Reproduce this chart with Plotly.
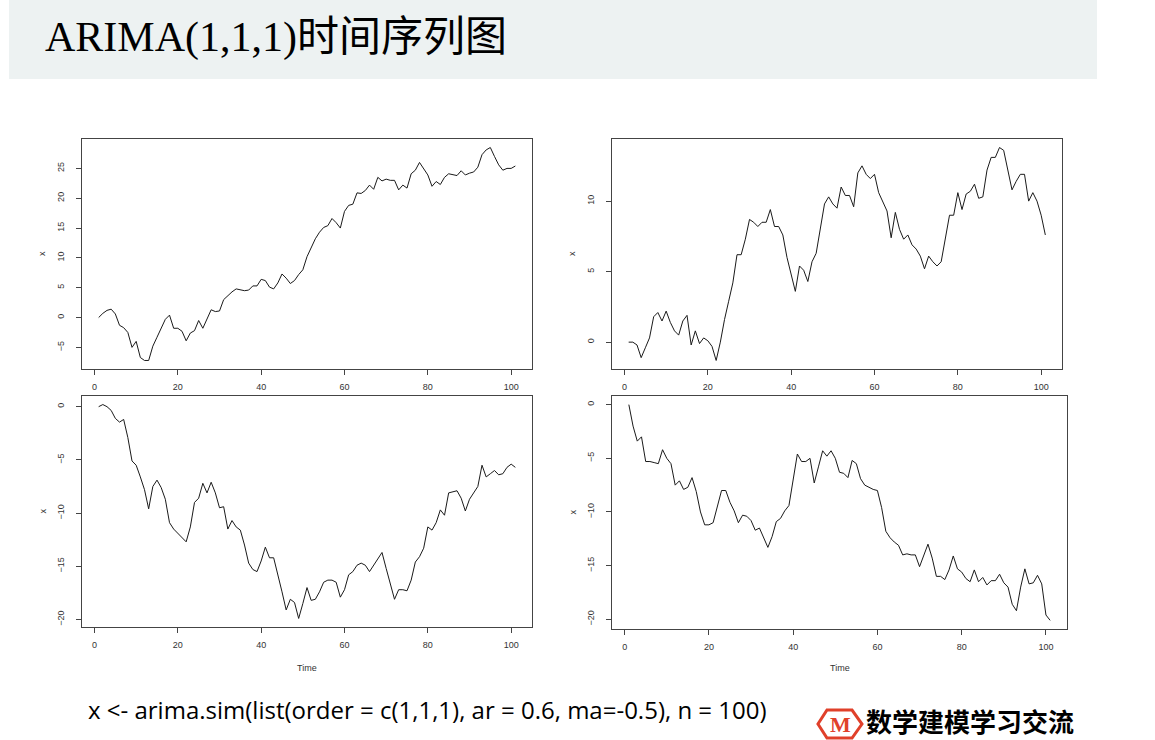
import plotly.graph_objects as go

W, H = 1155, 740

time = list(range(1, 102))

x_top_left = [0.0, 0.7, 1.2, 1.4, 0.6, -1.3, -1.7, -2.5, -5.0, -4.0,
              -6.7, -7.2, -7.2, -4.8, -3.3, -1.8, -0.3, 0.4, -1.8, -1.8,
              -2.3, -3.9, -2.6, -2.2, -0.5, -1.8, -0.3, 1.3, 1.0, 1.1,
              3.0, 3.7, 4.3, 4.8, 4.7, 4.5, 4.6, 5.3, 5.3, 6.4,
              6.2, 5.1, 4.8, 5.8, 7.3, 6.6, 5.7, 6.2, 7.2, 8.0,
              10.2, 11.8, 13.2, 14.3, 15.1, 15.4, 16.6, 15.9, 15.0, 17.8,
              18.8, 19.0, 20.9, 20.8, 21.3, 22.2, 21.5, 23.5, 22.9, 23.2,
              23.0, 23.0, 21.4, 22.2, 21.7, 24.1, 24.7, 26.0, 25.0, 23.9,
              22.0, 22.8, 22.3, 23.5, 24.1, 24.0, 23.8, 24.6, 23.9, 24.2,
              24.4, 25.2, 27.3, 28.1, 28.5, 27.0, 25.6, 24.7, 25.0, 25.0,
              25.4]

x_top_right = [0.0, 0.0, -0.2, -1.1, -0.4, 0.3, 1.8, 2.1, 1.5, 2.2,
               1.4, 0.8, 0.5, 1.5, 1.9, -0.2, 0.8, -0.1, 0.3, 0.1,
               -0.3, -1.3, 0.0, 1.6, 2.9, 4.2, 6.2, 6.2, 7.3, 8.7,
               8.5, 8.2, 8.5, 8.5, 9.4, 8.2, 8.2, 7.6, 6.0, 4.7,
               3.6, 5.4, 5.1, 4.3, 5.7, 6.3, 8.2, 9.8, 10.3, 9.8,
               9.5, 11.0, 10.4, 10.4, 9.6, 12.0, 12.5, 11.9, 11.6, 11.9,
               10.6, 10.0, 9.3, 7.4, 9.2, 8.0, 7.3, 7.6, 6.9, 6.6,
               6.1, 5.2, 6.1, 5.7, 5.4, 5.7, 7.3, 9.0, 9.0, 10.6,
               9.4, 10.5, 10.7, 11.2, 10.2, 10.3, 12.2, 13.1, 13.1, 13.8,
               13.6, 12.2, 10.8, 11.4, 11.9, 11.9, 10.0, 10.6, 10.0, 9.0,
               7.6]

x_bottom_left = [0.0, 0.2, 0.0, -0.35, -1.1, -1.45, -1.2, -2.9, -5.1, -5.5,
                 -6.6, -7.8, -9.6, -7.5, -6.9, -7.6, -8.7, -10.9, -11.5, -11.9,
                 -12.4, -12.7, -11.3, -9.0, -8.6, -7.2, -8.1, -7.1, -8.1, -9.5,
                 -9.4, -11.5, -10.7, -11.3, -11.6, -13.0, -14.7, -15.3, -15.5, -14.5,
                 -13.2, -14.2, -14.2, -15.7, -17.4, -19.1, -18.1, -18.4, -19.9, -18.5,
                 -17.0, -18.2, -18.1, -17.4, -16.5, -16.3, -16.3, -16.5, -17.9, -17.2,
                 -15.8, -15.5, -14.9, -14.7, -14.9, -15.5, -14.9, -14.2, -13.7, -15.2,
                 -16.6, -18.1, -17.2, -17.2, -17.3, -16.3, -14.6, -14.1, -13.3, -11.3,
                 -11.6, -10.9, -9.7, -10.2, -8.1, -8.0, -7.9, -8.6, -9.8, -8.7,
                 -8.1, -7.5, -5.5, -6.6, -6.3, -6.0, -6.4, -6.3, -5.7, -5.4,
                 -5.7]

x_bottom_right = [0.0, -2.0, -3.4, -3.0, -5.3, -5.3, -5.4, -5.5, -4.2, -5.0,
                  -5.5, -7.5, -7.1, -7.9, -7.7, -6.8, -8.1, -10.0, -11.2, -11.2,
                  -11.0, -9.6, -8.0, -8.0, -9.1, -9.9, -11.0, -10.3, -10.4, -10.8,
                  -11.7, -11.5, -12.4, -13.3, -12.3, -10.9, -10.6, -9.9, -9.4, -6.8,
                  -4.6, -5.3, -5.3, -5.0, -7.3, -5.8, -4.3, -4.8, -4.3, -5.0,
                  -6.3, -6.4, -6.8, -5.2, -5.5, -6.9, -7.5, -7.7, -7.9, -8.0,
                  -9.6, -11.8, -12.4, -12.8, -13.1, -14.0, -13.9, -14.0, -14.0, -15.1,
                  -14.0, -13.0, -14.3, -16.0, -16.0, -16.3, -15.4, -14.1, -15.3, -15.6,
                  -16.2, -16.5, -15.4, -16.5, -16.1, -16.8, -16.4, -16.4, -15.8, -16.6,
                  -17.0, -18.6, -19.2, -17.0, -15.3, -16.7, -16.6, -15.9, -16.7, -19.6,
                  -20.1]

series = [x_top_left, x_top_right, x_bottom_left, x_bottom_right]

# panel boxes in pixels: left, right, top, bottom
boxes = [(82, 532, 139, 369),
         (612, 1062, 139, 369),
         (82, 532, 396, 627),
         (612, 1067, 396, 629)]


def fx(px):
    return px / W


def fy(py):
    return 1 - py / H


def r_range(vals):
    # same 4% padding R uses
    lo, hi = min(vals), max(vals)
    pad = 0.04 * (hi - lo)
    return [lo - pad, hi + pad]


tick_font = dict(family="Liberation Sans, Arial", size=9, color="#333")

fig = go.Figure()
layout = {}
for i, (vals, box) in enumerate(zip(series, boxes)):
    n = "" if i == 0 else str(i + 1)
    fig.add_trace(go.Scatter(x=time, y=vals, mode="lines",
                             line=dict(color="#1a1a1a", width=1),
                             xaxis="x" + n, yaxis="y" + n,
                             showlegend=False, hoverinfo="skip"))
    left, right, top, bottom = box
    layout["xaxis" + n] = dict(domain=[fx(left), fx(right)], range=[-3, 105],
                               anchor="y" + n, tick0=0, dtick=20,
                               showgrid=False, zeroline=False,
                               showline=True, mirror=True, linecolor="#444",
                               linewidth=1, ticks="outside", ticklen=5,
                               tickcolor="#444", tickfont=tick_font,
                               ticklabelstandoff=4)
    layout["yaxis" + n] = dict(domain=[fy(bottom), fy(top)], range=r_range(vals),
                               anchor="x" + n, tick0=0, dtick=5,
                               showgrid=False, zeroline=False,
                               showline=True, mirror=True, linecolor="#444",
                               linewidth=1, ticks="outside", ticklen=5,
                               tickcolor="#444", tickfont=tick_font,
                               tickangle=-90, ticklabelstandoff=8)

annotations = []
for i, box in enumerate(boxes):
    left, right, top, bottom = box
    annotations.append(dict(text="x", x=fx(left - 40), y=fy((top + bottom) / 2),
                            xref="paper", yref="paper", showarrow=False,
                            xanchor="center", yanchor="middle",
                            textangle=-90, font=tick_font))
    if i >= 2:
        annotations.append(dict(text="Time", x=fx((left + right) / 2), y=fy(668),
                                xref="paper", yref="paper", showarrow=False,
                                xanchor="center", yanchor="middle",
                                font=tick_font))

annotations.append(dict(text="ARIMA(1,1,1)时间序列图", x=fx(43), y=fy(37),
                        xref="paper", yref="paper", xanchor="left", yanchor="middle",
                        showarrow=False,
                        font=dict(family="Liberation Serif, Noto Sans CJK SC",
                                  size=42, color="#000")))
annotations.append(dict(text="x <- arima.sim(list(order = c(1,1,1), ar = 0.6, ma=-0.5), n = 100)",
                        x=fx(86), y=fy(709), xref="paper", yref="paper",
                        xanchor="left", yanchor="middle", showarrow=False,
                        font=dict(family="Open Sans", size=24, color="#000")))
annotations.append(dict(text="<b>M</b>", x=fx(840), y=fy(724), xref="paper", yref="paper",
                        xanchor="center", yanchor="middle", showarrow=False,
                        font=dict(family="Liberation Serif", size=22, color="#e0402a")))
annotations.append(dict(text="<b>数学建模学习交流</b>", x=fx(864), y=fy(720),
                        xref="paper", yref="paper", xanchor="left", yanchor="middle",
                        showarrow=False,
                        font=dict(family="Noto Sans CJK SC", size=26, color="#000")))

hexagon = [(827, 710), (852, 710), (862, 724), (852, 738), (827, 738), (818, 724)]
path = "M " + " L ".join(f"{fx(a):.4f},{fy(b):.4f}" for a, b in hexagon) + " Z"

shapes = [
    dict(type="rect", xref="paper", yref="paper", x0=fx(9), x1=fx(1097), y0=fy(79), y1=1,
         fillcolor="#edf2f2", line=dict(width=0), layer="below"),
    dict(type="path", xref="paper", yref="paper", path=path,
         line=dict(color="#e0402a", width=3)),
]

fig.update_layout(width=W, height=H, margin=dict(l=0, r=0, t=0, b=0),
                  paper_bgcolor="white", plot_bgcolor="white",
                  annotations=annotations, shapes=shapes, **layout)

# page body has an 8px default margin; drop it so the figure sits at the corner
fig.write_html("out.html", config={"displayModeBar": False},
               post_script="document.body.style.margin='0';")
